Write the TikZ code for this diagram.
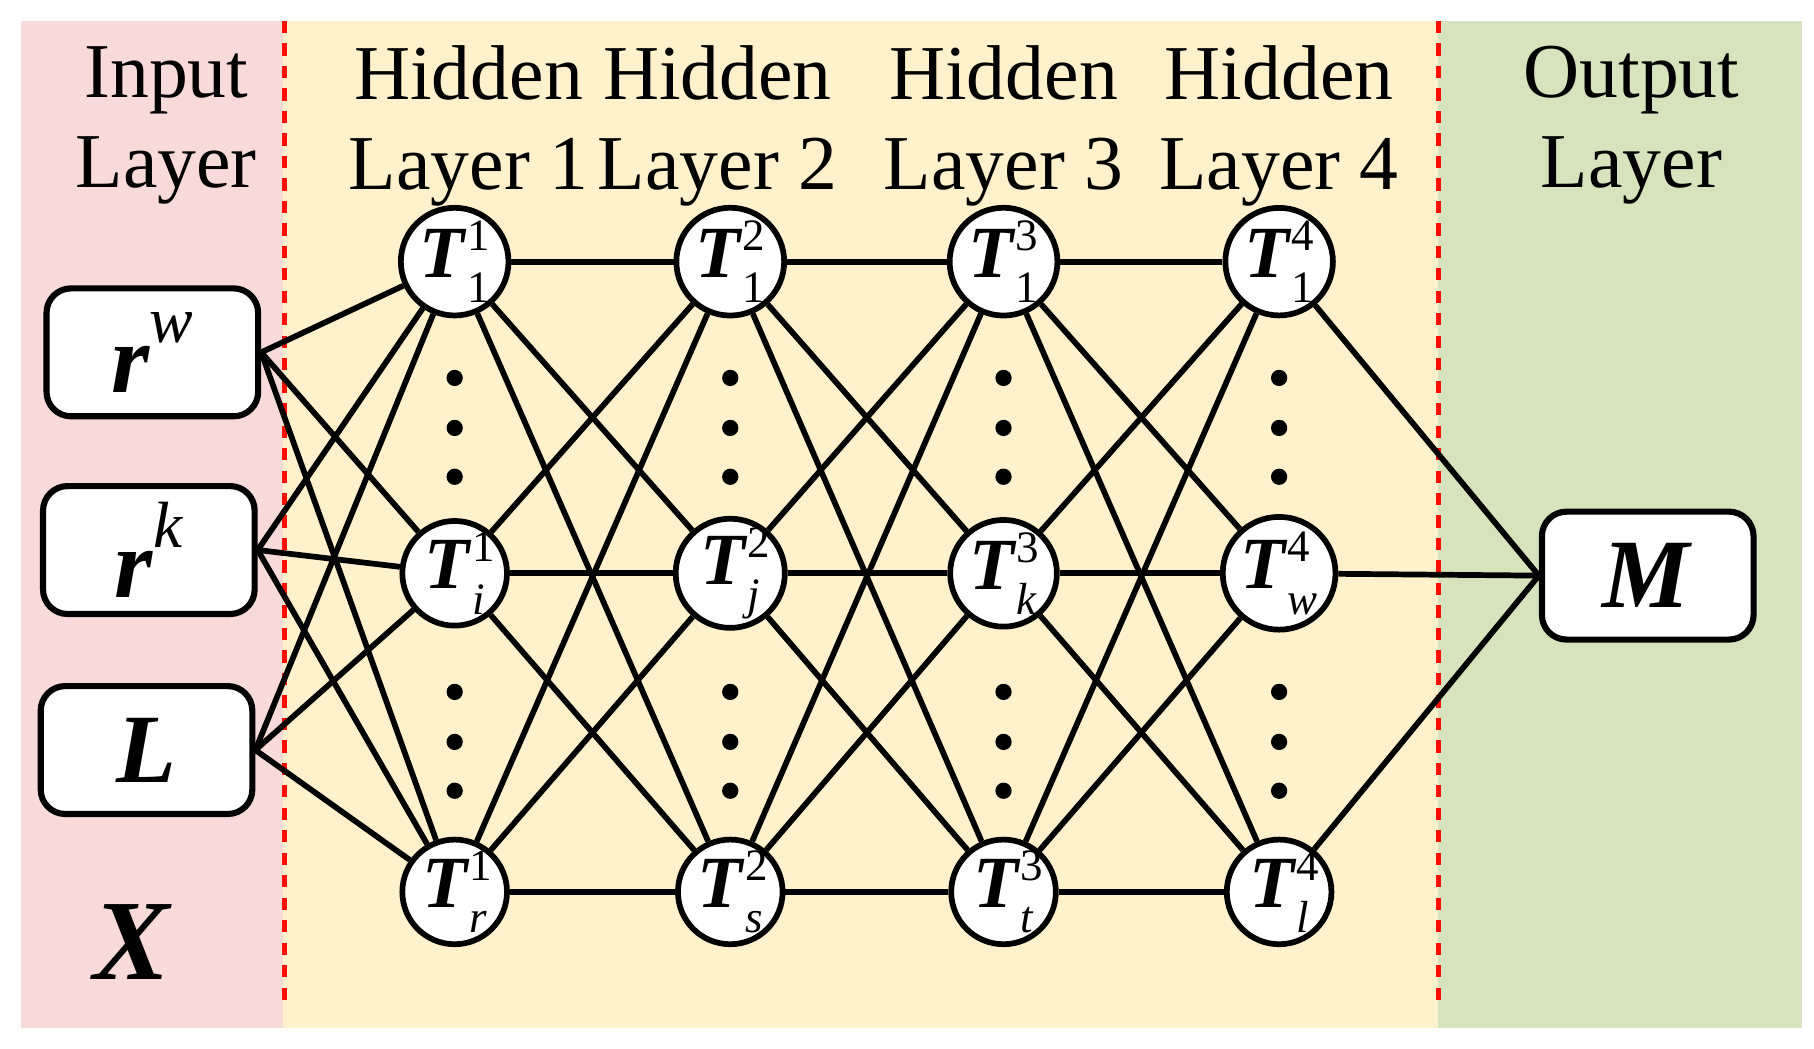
\documentclass[tikz,border=0pt]{standalone}
\usepackage{fontspec}
\setmainfont{Liberation Serif}
\usepackage{tikz}
\definecolor{inpink}{RGB}{248,218,216}
\definecolor{hidyellow}{RGB}{255,241,204}
\definecolor{outgreen}{RGB}{214,227,188}
\newcommand{\Tn}[2]{\textbf{\textit{T}}\rlap{\raisebox{0.8ex}{\fontsize{11}{11}\selectfont #1}}\raisebox{-0.75ex}{\fontsize{11}{11}\selectfont #2}}
\newcommand{\Rv}[1]{\textbf{\textit{r}}\raisebox{1.1ex}{\fontsize{16}{16}\selectfont\itshape #1}}
\tikzset{
	neuron/.style={shape=circle,draw=black,line width=1.4pt,fill=white,minimum size=0.9cm,inner sep=0pt,font=\fontsize{18}{18}\selectfont},
	inbox/.style={shape=rectangle,rounded corners=6pt,draw=black,line width=1.5pt,fill=white,minimum width=1.82cm,minimum height=1.1cm,font=\fontsize{24}{24}\selectfont},
	conn/.style={line width=1.4pt},
	lbl/.style={align=center,font=\fontsize{19}{22}\selectfont},
	sep/.style={draw=red!90!orange,line width=1.2pt,dash pattern=on 3pt off 2.5pt}
}
\begin{document}
\begin{tikzpicture}[x=1cm,y=1cm]
	\useasboundingbox (0,0) rectangle (15.6,9.02);
	% background bands
	\fill[inpink] (0.18,0.18) rectangle (2.43,8.84);
	\fill[hidyellow] (2.43,0.18) rectangle (12.37,8.84);
	\fill[outgreen] (12.37,0.18) rectangle (15.5,8.84);
	\coordinate (s1a) at (2.45,8.84);
	\coordinate (s1b) at (2.45,0.42);
	\coordinate (s2a) at (12.37,8.84);
	\coordinate (s2b) at (12.37,0.42);
	\draw[sep] (s1a) -- (s1b);
	\draw[sep] (s2a) -- (s2b);
	% titles
	\node[lbl] (tin) at (1.43,7.94) {Input\\Layer};
	\node[lbl] (th1) at (4.03,7.94) {Hidden\\Layer 1};
	\node[lbl] (th2) at (6.17,7.94) {Hidden\\Layer 2};
	\node[lbl] (th3) at (8.63,7.94) {Hidden\\Layer 3};
	\node[lbl] (th4) at (11.0,7.94) {Hidden\\Layer 4};
	\node[lbl] (tout) at (14.03,7.94) {Output\\Layer};
	\node[font=\fontsize{28}{28}\selectfont\bfseries\itshape] (X) at (1.13,0.92) {X};
	% input and output
	\node[inbox] (rw) at (1.31,5.99) {\Rv{w}};
	\node[inbox] (rk) at (1.28,4.29) {\Rv{k}};
	\node[inbox] (L) at (1.26,2.57) {\textbf{\textit{L}}};
	\node[inbox] (M) at (14.17,4.07) {\textbf{\textit{M}}};
	% hidden neurons
	\node[neuron] (A1) at (3.91,6.77) {\Tn{1}{1}};
	\node[neuron] (A2) at (3.91,4.09) {\Tn{1}{\textit{i}}};
	\node[neuron] (A3) at (3.91,1.35) {\Tn{1}{\textit{r}}};
	\node[neuron] (B1) at (6.28,6.77) {\Tn{2}{1}};
	\node[neuron] (B2) at (6.28,4.09) {\Tn{2}{\textit{j}}};
	\node[neuron] (B3) at (6.28,1.35) {\Tn{2}{\textit{s}}};
	\node[neuron] (C1) at (8.63,6.77) {\Tn{3}{1}};
	\node[neuron] (C2) at (8.63,4.09) {\Tn{3}{\textit{k}}};
	\node[neuron] (C3) at (8.63,1.35) {\Tn{3}{\textit{t}}};
	\node[neuron] (D1) at (11.0,6.77) {\Tn{4}{1}};
	\node[neuron] (D2) at (11.0,4.09) {\Tn{4}{\textit{w}}};
	\node[neuron] (D3) at (11.0,1.35) {\Tn{4}{\textit{l}}};
	% dots
	\foreach \c in {A,B,C,D}
		\foreach \y in {5.77,5.34,4.92,3.07,2.64,2.22}
			\fill (\c1 |- 0,\y) circle (0.07);
	% connectors
	\foreach \s in {rw,rk,L}
		\foreach \t in {A1,A2,A3}
			\draw[conn] (\s.east) -- (\t);
	\foreach \s/\t in {A/B,B/C,C/D}
		\foreach \i in {1,2,3}
			\foreach \j in {1,2,3}
				\draw[conn] (\s\i) -- (\t\j);
	\foreach \s in {D1,D2,D3}
		\draw[conn] (\s) -- (M.west);
\end{tikzpicture}
\end{document}
